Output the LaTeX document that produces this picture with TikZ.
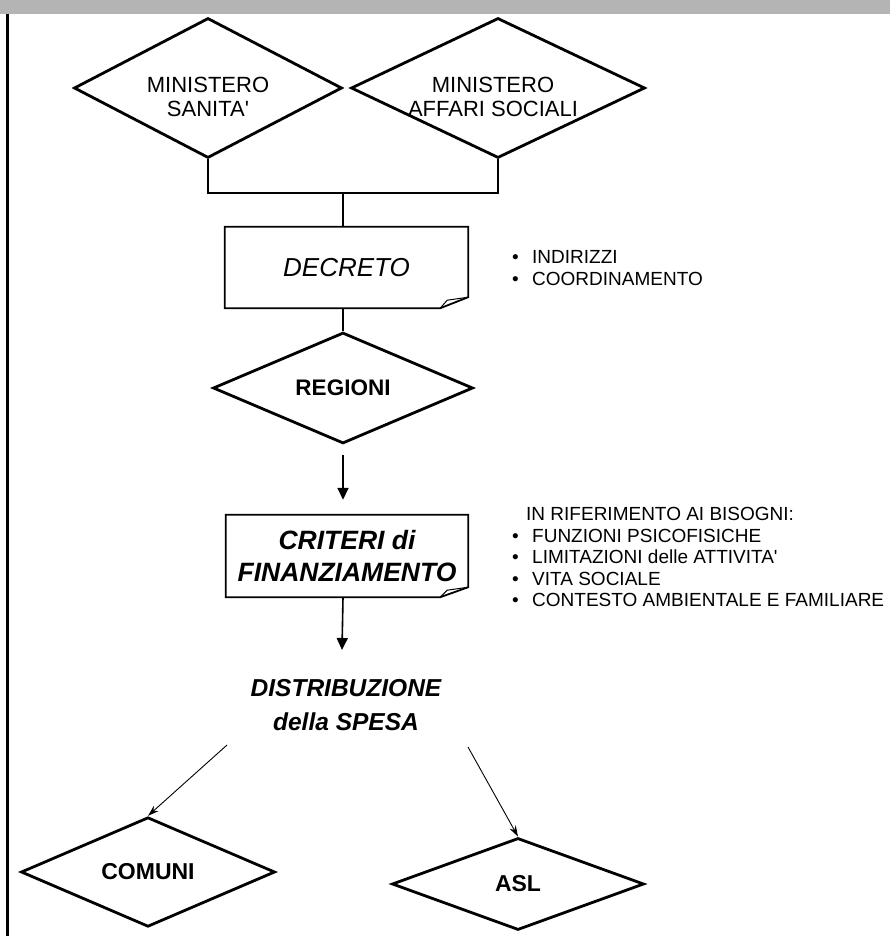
\documentclass[tikz,border=0pt]{standalone}
\usepackage{fontspec}
\setmainfont{Liberation Sans}
\usetikzlibrary{shapes.geometric,arrows.meta}
\definecolor{bargray}{RGB}{180,180,180}
\begin{document}
\begin{tikzpicture}[x=1pt,y=-1pt,
  diam/.style={diamond, draw, line width=2.8pt, inner sep=0pt, line join=miter},
  paper/.style={rectangle, inner sep=0pt},
  paperline/.style={line width=1.8pt, line join=miter},
  conn/.style={line width=1.5pt},
  bigarrow/.style={line width=1.6pt, -{Triangle[length=12pt,width=11pt]}},
  thinarrow/.style={line width=0.9pt, -{Stealth[length=11pt,width=7pt]}},
  lbl/.style={inner sep=0pt, align=center},
  item/.style={inner sep=0pt, anchor=west, font=\fontsize{19}{20}\selectfont}
]
\useasboundingbox (0,0) rectangle (890,936);
\fill[bargray] (0,0) rectangle (890,14);
\draw[line width=3pt] (7.5,14) -- (7.5,936);

% ministries
\node[diam, minimum width=268pt, minimum height=140pt] (d1) at (208,88) {};
\node[diam, minimum width=294pt, minimum height=140pt] (d2) at (498,88) {};
\node[lbl, font=\fontsize{22}{23.5}\selectfont] (t1) at (208,97) {MINISTERO\\SANITA\textquotesingle};
\node[lbl, font=\fontsize{22}{23.5}\selectfont] (t2) at (493,97) {MINISTERO\\AFFARI SOCIALI};

\coordinate (j) at (343,193);
\draw[conn] (d1.south) |- (j) -| (d2.south);

% decreto
\node[paper, minimum width=243pt, minimum height=81pt, font=\itshape\fontsize{26}{30}\selectfont] (decreto) at (346.5,267.5) {DECRETO};
\draw[paperline] (decreto.north west) -- (decreto.north east) -- ([yshift=11pt]decreto.south east)
  -- ([xshift=-28pt]decreto.south east) -- (decreto.south west) -- cycle;
\draw[line width=1pt] ([xshift=-28pt]decreto.south east) -- ([xshift=-21pt,yshift=8pt]decreto.south east) -- ([yshift=11pt]decreto.south east);
\draw[conn] (j) -- (j |- decreto.north);

\node[item] (i1) at (512,257) {\makebox[20pt][l]{\textbullet}INDIRIZZI};
\node[item] (i2) at (512,279) {\makebox[20pt][l]{\textbullet}COORDINAMENTO};

% regioni
\node[diam, minimum width=260pt, minimum height=92pt, font=\bfseries\fontsize{22.5}{24}\selectfont] (regioni) at (343,388) {REGIONI};
\draw[conn] (decreto.south -| j) -- (regioni.north);

% criteri
\node[paper, minimum width=242pt, minimum height=82pt, align=center, font=\bfseries\itshape\fontsize{26.5}{32}\selectfont] (criteri) at (347,556) {CRITERI di\\FINANZIAMENTO};
\draw[paperline] (criteri.north west) -- (criteri.north east) -- ([yshift=10pt]criteri.south east)
  -- ([xshift=-28pt]criteri.south east) -- (criteri.south west) -- cycle;
\draw[line width=1pt] ([xshift=-28pt]criteri.south east) -- ([xshift=-21pt,yshift=7pt]criteri.south east) -- ([yshift=10pt]criteri.south east);
\draw[bigarrow, shorten <=10pt, shorten >=15pt] (regioni.south) -- (criteri.north -| regioni.south);

\node[item] (r0) at (526,514) {IN RIFERIMENTO AI BISOGNI:};
\node[item] (r1) at (512,535.5) {\makebox[20pt][l]{\textbullet}FUNZIONI PSICOFISICHE};
\node[item] (r2) at (512,557) {\makebox[20pt][l]{\textbullet}LIMITAZIONI delle ATTIVITA\textquotesingle};
\node[item] (r3) at (512,578.5) {\makebox[20pt][l]{\textbullet}VITA SOCIALE};
\node[item] (r4) at (512,600) {\makebox[20pt][l]{\textbullet}CONTESTO AMBIENTALE E FAMILIARE};

% distribuzione
\node[lbl, font=\bfseries\itshape\fontsize{24.5}{34}\selectfont] (dist) at (346,705) {DISTRIBUZIONE\\della SPESA};
\coordinate (a2) at (342,650);
\draw[bigarrow] (criteri.south -| j) -- (a2);

% comuni, asl
\node[diam, minimum width=254pt, minimum height=93pt, font=\bfseries\fontsize{23}{25}\selectfont] (comuni) at (148,872) {COMUNI};
\node[diam, minimum width=252pt, minimum height=92pt, font=\bfseries\fontsize{23}{25}\selectfont] (asl) at (518,884) {ASL};
\coordinate (s1) at (227,745);
\coordinate (s2) at (468,747);
\draw[thinarrow] (s1) -- (comuni.north);
\draw[thinarrow] (s2) -- (asl.north);
\end{tikzpicture}
\end{document}
